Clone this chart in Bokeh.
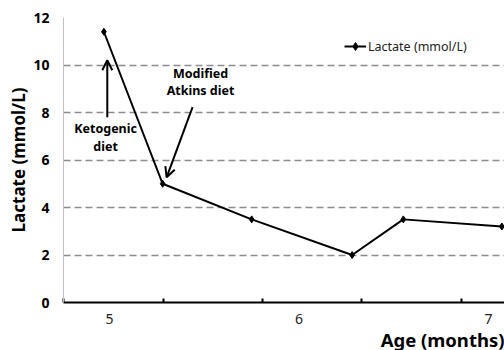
from bokeh.plotting import figure
from bokeh.models import (Range1d, FixedTicker, Label, Arrow, OpenHead, Legend,
                          LegendItem, ColumnDataSource, Title)
from bokeh.embed import file_html
from bokeh.resources import INLINE

# ---- data ----
age_months = [4.97, 5.28, 5.75, 6.28, 6.55, 7.07]
lactate = [11.4, 5.0, 3.5, 2.0, 3.5, 3.2]
x_tick_labels = [5, 6, 7]
x_tick_marks = [4.757, 5.285, 5.807, 6.33, 6.855]
y_ticks = [0, 2, 4, 6, 8, 10, 12]
series_name = "Lactate (mmol/L)"

FONT = "Noto Sans"

p = figure(width=504, height=350, output_backend="svg", toolbar_location=None,
           x_range=Range1d(4.757, 7.084), y_range=Range1d(0, 12),
           min_border_left=63, min_border_right=0, min_border_top=17,
           min_border_bottom=48)
p.outline_line_color = None
p.background_fill_color = "white"
p.border_fill_color = "white"

src = ColumnDataSource(dict(x=age_months, y=lactate))
ln = p.line("x", "y", source=src, line_color="black", line_width=2)
sc = p.scatter("x", "y", source=src, marker="diamond", size=7,
               fill_color="black", line_color="black")

# x axis
xa = p.xaxis[0]
xa.ticker = FixedTicker(ticks=x_tick_labels, minor_ticks=x_tick_marks)
xa.major_tick_line_color = None
xa.minor_tick_line_color = "black"
xa.minor_tick_line_width = 2
xa.minor_tick_in = 4
xa.minor_tick_out = 0
xa.major_tick_in = 0
xa.major_tick_out = 0
xa.axis_line_color = "black"
xa.axis_line_width = 2
xa.major_label_text_font = FONT
xa.major_label_text_font_size = "14px"
xa.major_label_text_color = "#222222"
xa.major_label_standoff = 11

# y axis
ya = p.yaxis[0]
ya.ticker = FixedTicker(ticks=y_ticks)
ya.major_tick_line_color = None
ya.minor_tick_line_color = None
ya.major_tick_in = 0
ya.major_tick_out = 0
ya.axis_line_color = "#c0c0c0"
ya.axis_line_width = 1
ya.major_label_text_font = FONT
ya.major_label_text_font_size = "14px"
ya.major_label_text_font_style = "bold"
ya.major_label_text_color = "black"
ya.major_label_standoff = 14

p.xgrid.grid_line_color = None
p.ygrid.ticker = FixedTicker(ticks=y_ticks[1:])
p.ygrid.grid_line_color = "#8c8c8c"
p.ygrid.grid_line_width = 1.5
p.ygrid.grid_line_dash = "7 4"

# axis titles as side titles
p.add_layout(Title(text="Lactate (mmol/L)", text_font=FONT,
                   text_font_size="17px", text_font_style="bold",
                   text_color="black", align="center", offset=18,
                   standoff=2), "left")
xtitle = Title(text="Age (months)", text_font=FONT,
               text_font_size="18.5px", text_font_style="bold",
               text_color="black", align="right", standoff=0)
try:
    xtitle.standoff = -4
except Exception:
    pass
p.add_layout(xtitle, "below")

# annotations
p.add_layout(Label(x=4.979, y=6.96, text="Ketogenic\ndiet", text_font=FONT,
                   text_font_size="12.5px", text_font_style="bold",
                   text_align="center", text_baseline="middle",
                   text_line_height=1.05, text_color="black"))
p.add_layout(Label(x=5.48, y=9.30, text="Modified\nAtkins diet", text_font=FONT,
                   text_font_size="12.5px", text_font_style="bold",
                   text_align="center", text_baseline="middle",
                   text_line_height=1.0, text_color="black"))
p.add_layout(Arrow(x_start=4.988, y_start=7.8, x_end=4.988, y_end=10.2,
                   line_width=2, line_color="black",
                   end=OpenHead(size=10, line_width=2, line_color="black")))
p.add_layout(Arrow(x_start=5.438, y_start=8.23, x_end=5.301, y_end=5.27,
                   line_width=2, line_color="black",
                   end=OpenHead(size=10, line_width=2, line_color="black")))

legend = Legend(items=[LegendItem(label=series_name, renderers=[ln, sc])],
                location=(281, 246), orientation="vertical",
                glyph_width=22, glyph_height=20, label_standoff=2,
                padding=0, margin=0, border_line_color=None,
                background_fill_alpha=0,
                label_text_font=FONT, label_text_font_size="12.5px",
                label_text_color="#222222")
p.add_layout(legend)

open("out.html", "w").write(file_html(p, INLINE))
